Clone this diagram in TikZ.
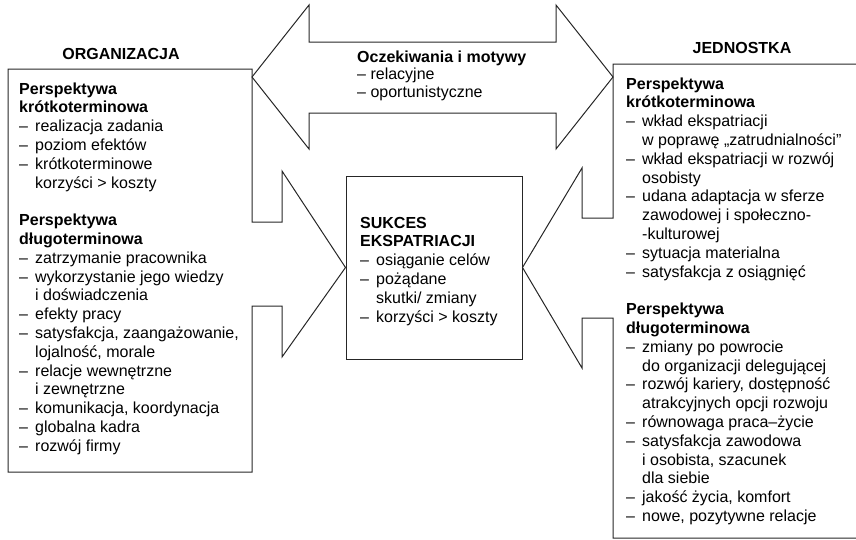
\documentclass[tikz,border=0pt]{standalone}
\usepackage{fontspec}
\setmainfont{Liberation Sans}
\usepackage{tikz}
\usetikzlibrary{calc}

\newcommand{\pkt}{\makebox[16pt][l]{–}} % 箇条書きのダッシュ
\newcommand{\dal}{\hspace*{16pt}} % 続きの行の字下げ

\begin{document}
\begin{tikzpicture}[x=1pt,y=-1pt,
  ramka/.style={draw=black!85, line width=1pt},
  tekst/.style={anchor=base west, inner sep=0pt, align=left, font=\fontsize{16}{18.8}\selectfont},
  tytul/.style={anchor=base, inner sep=0pt, font=\fontsize{16}{18.8}\selectfont\bfseries}]
  \def\lx{252};  % 左の枠の右端
  \def\rx{613};  % 右の枠の左端

  \useasboundingbox (0,0) rectangle (856,539);
  \clip (0,0) rectangle (856,539); % 右の枠は図の外まで

  \node[ramka, minimum width=176, minimum height=183, inner sep=0pt] (sukces) at (434,267.5) {}; % 中央の枠
  \coordinate (lt) at (\lx,77); % 上の矢印の先端
  \coordinate (rt) at (\rx,77);

  % 上の両矢印
  \draw[ramka] (lt) -- (309,5) -- (309,42) -- (556,42) -- (556,5) -- (rt)
    -- (556,149) -- (556,113) -- (309,113) -- (309,149) -- cycle;
  % 左の枠と矢印
  \draw[ramka] (\lx,222) -- (\lx,69) -- (8,69) -- (8,472) -- (\lx,472) -- (\lx,306)
    -- (282,306) -- (282,357) -- (sukces.west) -- (282,171) -- (282,222) -- cycle;
  % 右の枠と矢印
  \draw[ramka] (\rx,218) -- (\rx,64) -- (870,64) -- (870,538) -- (\rx,538) -- (\rx,318)
    -- (582,318) -- (582,368) -- (sukces.east) -- (582,168) -- (582,218) -- cycle;

  \node[tytul] (org-t) at (121,59) {ORGANIZACJA};
  \node[tytul] (jed-t) at (742,53) {JEDNOSTKA};

  % 文字の位置は最後の行のベースライン
  \node[tekst, font=\fontsize{16}{17.8}\selectfont] (ocz) at (357,97.6)
    {\textbf{Oczekiwania i motywy}\\– relacyjne\\– oportunistyczne};

  \node[tekst] (org) at (19,451.2) {\textbf{Perspektywa}\\
    \textbf{krótkoterminowa}\\
    \pkt realizacja zadania\\
    \pkt poziom efektów\\
    \pkt krótkoterminowe\\
    \dal korzyści > koszty\\[18.8pt]
    \textbf{Perspektywa}\\
    \textbf{długoterminowa}\\
    \pkt zatrzymanie pracownika\\
    \pkt wykorzystanie jego wiedzy\\
    \dal i doświadczenia\\
    \pkt efekty pracy\\
    \pkt satysfakcja, zaangażowanie,\\
    \dal lojalność, morale\\
    \pkt relacje wewnętrzne\\
    \dal i zewnętrzne\\
    \pkt komunikacja, koordynacja\\
    \pkt globalna kadra\\
    \pkt rozwój firmy};

  \node[tekst] (suk) at (360,322) {\textbf{SUKCES}\\
    \textbf{EKSPATRIACJI}\\
    \pkt osiąganie celów\\
    \pkt pożądane\\
    \dal skutki/ zmiany\\
    \pkt korzyści > koszty};

  \node[tekst] (jed) at (626,521.4) {\textbf{Perspektywa}\\
    \textbf{krótkoterminowa}\\
    \pkt wkład ekspatriacji\\
    \dal w poprawę „zatrudnialności”\\
    \pkt wkład ekspatriacji w rozwój\\
    \dal osobisty\\
    \pkt udana adaptacja w sferze\\
    \dal zawodowej i społeczno-\\
    \dal -kulturowej\\
    \pkt sytuacja materialna\\
    \pkt satysfakcja z osiągnięć\\[18.8pt]
    \textbf{Perspektywa}\\
    \textbf{długoterminowa}\\
    \pkt zmiany po powrocie\\
    \dal do organizacji delegującej\\
    \pkt rozwój kariery, dostępność\\
    \dal atrakcyjnych opcji rozwoju\\
    \pkt równowaga praca–życie\\
    \pkt satysfakcja zawodowa\\
    \dal i osobista, szacunek\\
    \dal dla siebie\\
    \pkt jakość życia, komfort\\
    \pkt nowe, pozytywne relacje};
\end{tikzpicture}
\end{document}
